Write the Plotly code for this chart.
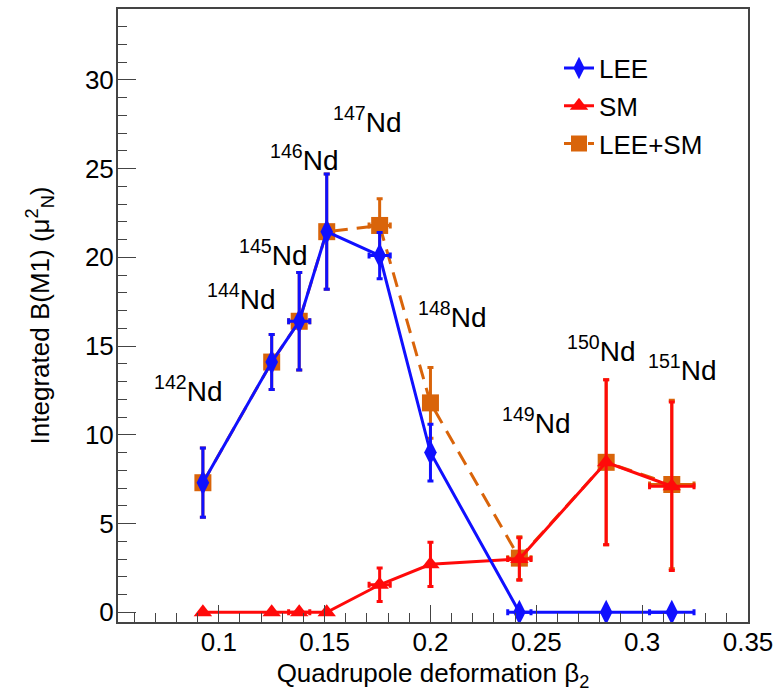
import plotly.graph_objects as go

# ---- data ----
beta2 = [0.0925, 0.125, 0.138, 0.151, 0.176, 0.200, 0.242, 0.283, 0.314]
beta2_err = [0, 0, 0.005, 0, 0.005, 0, 0.0055, 0, 0.0105]

lee = [7.3, 14.1, 16.4, 21.45, 20.1, 9.0, 0, 0, 0]
lee_err = [1.95, 1.55, 2.75, 3.25, 1.3, 1.6, 0, 0, 0]

sm = [0, 0, 0, 0, 1.55, 2.7, 3.0, 8.45, 7.1]
sm_err = [0, 0, 0, 0, 0.95, 1.25, 1.2, 4.65, 4.75]

leesm = [7.3, 14.1, 16.4, 21.45, 21.8, 11.8, 3.05, 8.45, 7.2]
leesm_err = [1.95, 1.55, 2.75, 3.25, 1.5, 2.0, 1.2, 4.65, 4.75]

x_tickvals = [0.1, 0.15, 0.2, 0.25, 0.3, 0.35]
x_ticktext = ["0.1", "0.15", "0.2", "0.25", "0.3", "0.35"]

iso_mass = ["142", "144", "145", "146", "147", "148", "149", "150", "151"]
label_x = [0.0858, 0.1106, 0.126, 0.1406, 0.1703, 0.2104, 0.250, 0.2807, 0.3189]
label_y = [12.6, 17.77, 20.25, 25.6, 27.75, 16.76, 10.79, 14.84, 13.77]

FONT = "Liberation Sans, Arial, Helvetica, sans-serif"
BLUE = "#1010ff"
RED = "#ff0a0a"
ORANGE = "#d9640a"

fig = go.Figure()

def add(name, y, ey, color, symbol, size, dash, group, rank):
    fig.add_trace(go.Scatter(
        x=beta2, y=y, name=name, mode="lines+markers",
        legendgroup=group, legendrank=rank,
        line=dict(color=color, width=3, dash=dash),
        marker=dict(color=color, symbol=symbol, size=size),
        error_y=dict(type="data", array=ey, color=color, thickness=3, width=3),
        error_x=dict(type="data", array=beta2_err, color=color, thickness=3, width=3),
    ))

add("LEE+SM", leesm, leesm_err, ORANGE, "square", 17, "15px,9px", "c", 3)
add("SM", sm, sm_err, RED, "triangle-up", 16, "solid", "b", 2)
add("LEE", lee, lee_err, BLUE, "diamond-tall", 18, "solid", "a", 1)

for m, lx, ly in zip(iso_mass, label_x, label_y):
    fig.add_annotation(x=lx, y=ly, xref="x", yref="y",
                       text=f"<sup>{m}</sup>Nd", showarrow=False,
                       font=dict(family=FONT, size=28, color="black"),
                       xanchor="center", yanchor="middle")

fig.update_layout(
    width=777, height=698,
    margin=dict(l=118, r=29, t=9, b=76),
    paper_bgcolor="white", plot_bgcolor="white",
    font=dict(family=FONT, size=26, color="black"),
    showlegend=True,
    legend=dict(x=0.70, y=0.942, xanchor="left", yanchor="top",
                bgcolor="rgba(0,0,0,0)", traceorder="grouped",
                tracegroupgap=1, font=dict(family=FONT, size=26)),
)

fig.update_xaxes(
    range=[0.0524, 0.35], showgrid=False, zeroline=False, automargin=False,
    showline=True, linecolor="#444", linewidth=2, mirror=True,
    ticks="inside", ticklen=17, tickwidth=1, tickcolor="#444",
    tickvals=x_tickvals, ticktext=x_ticktext, tickangle=0,
    ticklabelstandoff=-4,
    minor=dict(ticks="inside", ticklen=9, dtick=0.01, tickcolor="#444", tickwidth=1),
    title=dict(text="Quadrupole deformation β<sub>2</sub>", font=dict(size=26), standoff=8),
    tickfont=dict(size=26),
)
fig.update_yaxes(
    range=[-0.55, 34.0], showgrid=False, zeroline=False, automargin=False,
    showline=True, linecolor="#444", linewidth=2, mirror=True,
    ticks="inside", ticklen=18, tickwidth=1, tickcolor="#444",
    tick0=0, dtick=5, ticklabelstandoff=-3,
    minor=dict(ticks="inside", ticklen=9, dtick=1, tickcolor="#444", tickwidth=1),
    title=dict(text="Integrated B(M1) (μ<sup>2</sup><sub>N</sub>)", font=dict(size=26), standoff=28),
    tickfont=dict(size=26),
)

fig.write_html("out.html")
